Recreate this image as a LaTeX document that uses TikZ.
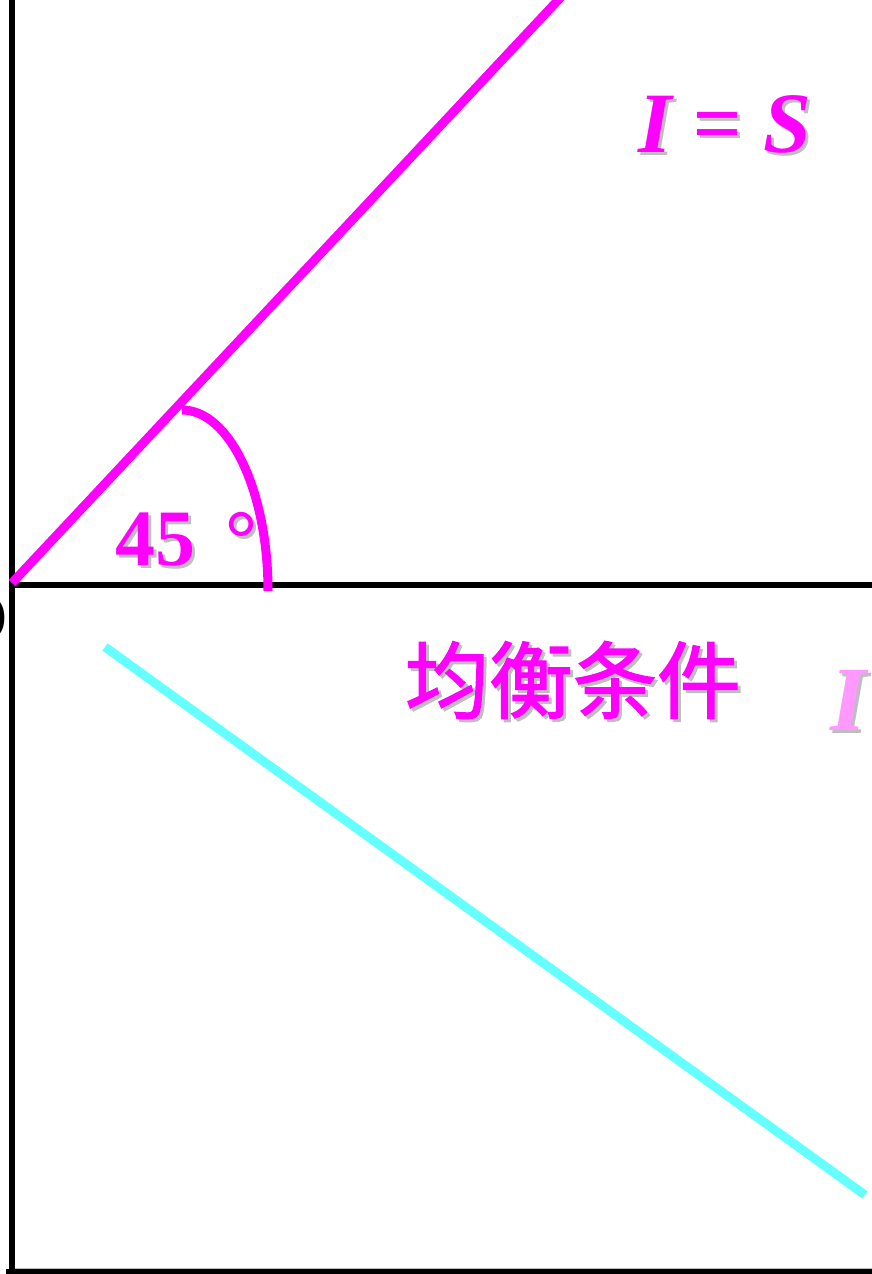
\documentclass[tikz,border=0pt]{standalone}
\usepackage{fontspec}
\setmainfont{Liberation Serif}
\newfontfamily\cjk{Noto Sans CJK SC}[FakeBold=1.6]
\definecolor{mag}{RGB}{255,0,255}
\definecolor{cyanl}{RGB}{102,255,255}
\definecolor{pinkl}{RGB}{255,153,255}
\definecolor{shad}{RGB}{190,190,190}
\newcommand{\degtext}{45\hspace{30pt}°}
\begin{document}
\begin{tikzpicture}[x=1pt,y=-1pt,
  axis/.style={line width=6pt,black},
  magline/.style={line width=9pt,mag},
  cyline/.style={line width=9pt,cyanl},
  lbl/.style={inner sep=0pt,outer sep=0pt},
]
\useasboundingbox (0,0) rectangle (872,1274);
% axes
\coordinate (ytop) at (12,-5);
\coordinate (orig) at (12,585);
\coordinate (ybot) at (12,1274);
\coordinate (xend) at (875,585);
\coordinate (bl) at (6,1272);
\coordinate (br) at (875,1272);
\draw[axis] (ytop) -- (ybot);
\draw[axis] (orig) -- (xend);
\draw[line width=1pt,shad] (15,1268.5) -- (875,1268.5);
\draw[axis] (bl) -- (br);
% 45 degree line
\coordinate (o2) at (12,583);
\coordinate (mtop) at (561,-3);
\draw[magline] (o2) -- (mtop);
% arc
\coordinate (arcs) at (182,410);
\draw[line width=9pt,mag] (arcs) arc[start angle=90,end angle=0,x radius=86,y radius=-181];
% cyan line
\coordinate (c1) at (105,647);
\coordinate (c2) at (865,1195);
\draw[cyline] (c1) -- (c2);
% O label (clipped)
\node[lbl,font=\fontsize{68}{68}\selectfont,anchor=base] (O) at (-17,640) {O};
% 45 degree label
\node[lbl,anchor=base west,shad,font=\bfseries\fontsize{80}{80}\selectfont] (a45s) at (118,568) {\degtext};
\node[lbl,anchor=base west,mag,font=\bfseries\fontsize{80}{80}\selectfont] (a45) at (115,565) {\degtext};
% I = S
\node[lbl,anchor=base west,shad,font=\bfseries\itshape\fontsize{86}{86}\selectfont] (ISs) at (641,155) {I = S};
\node[lbl,anchor=base west,mag,font=\bfseries\itshape\fontsize{86}{86}\selectfont] (IS) at (638,152) {I = S};
% CJK label
\node[lbl,shad,font=\cjk\fontsize{84}{84}\selectfont] (cjks) at (576,683) {均衡条件};
\node[lbl,mag,font=\cjk\fontsize{84}{84}\selectfont] (cjkl) at (573,680) {均衡条件};
% pink I
\node[lbl,anchor=base west,shad,font=\bfseries\itshape\fontsize{92}{92}\selectfont] (Ips) at (833,733) {I};
\node[lbl,anchor=base west,pinkl,font=\bfseries\itshape\fontsize{92}{92}\selectfont] (Ip) at (830,730) {I};
\end{tikzpicture}
\end{document}
